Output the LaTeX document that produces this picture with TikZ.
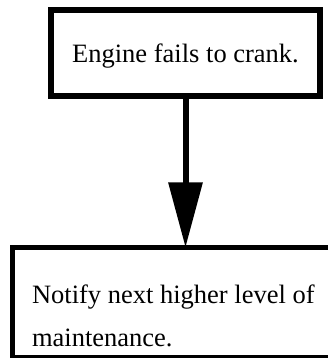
\documentclass[tikz,border=0pt]{standalone}
\usepackage{fontspec}
\setmainfont{Liberation Serif}
\usetikzlibrary{arrows.meta}

\tikzset{
  stepbox/.style={draw, line width=5.5pt, outer sep=0pt, inner sep=0pt,
    font=\fontsize{26.5}{43}\selectfont},
  flow/.style={line width=6pt, -{Triangle[width=33pt, length=65pt]}}
}

\begin{document}
\begin{tikzpicture}[x=1pt, y=1pt]
  \useasboundingbox (0,0) rectangle (328,358);

  % ---------- symptom ----------
  \node[stepbox, minimum width=269pt, minimum height=86pt,
        text height=24.6pt, text depth=6pt] (fault) at (185.5,305)
        {Engine fails to crank.};

  % ---------- action (runs off the page) ----------
  \node[stepbox, minimum width=346pt, minimum height=110.5pt,
        text width=307pt, align=flush left,
        text height=51.5pt, text depth=50pt] (notify) at (185.5,55.25)
        {Notify next higher level of maintenance.};

  \draw[flow] (fault) -- (notify);
\end{tikzpicture}
\end{document}
